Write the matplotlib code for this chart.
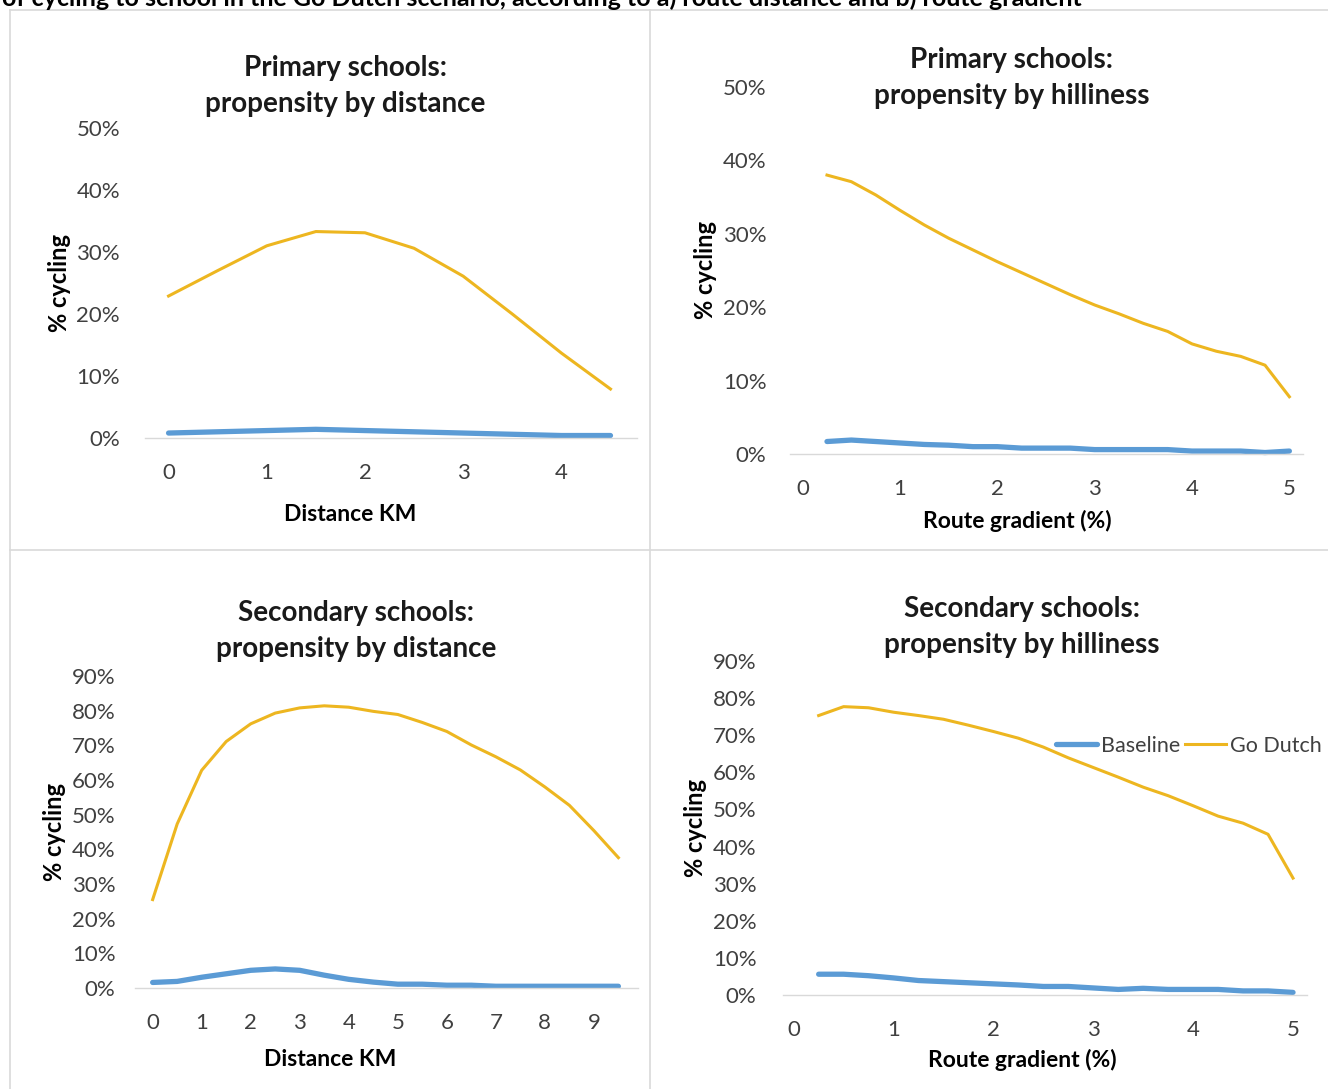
import matplotlib
matplotlib.use("Agg")
import matplotlib.pyplot as plt
from matplotlib.lines import Line2D

plt.rcParams["font.family"] = ["Lato", "DejaVu Sans"]

# --- data ---
dist_primary = [0, 0.5, 1, 1.5, 2, 2.5, 3, 3.5, 4, 4.5]
dist_primary_base = [0.8, 1.0, 1.2, 1.4, 1.2, 1.0, 0.8, 0.6, 0.4, 0.4]
dist_primary_dutch = [22.9, 27.0, 31.0, 33.3, 33.1, 30.6, 26.1, 20.0, 13.7, 7.9]

grad = [0.25, 0.5, 0.75, 1.0, 1.25, 1.5, 1.75, 2.0, 2.25, 2.5,
        2.75, 3.0, 3.25, 3.5, 3.75, 4.0, 4.25, 4.5, 4.75, 5.0]
grad_primary_base = [1.7, 1.9, 1.7, 1.5, 1.3, 1.2, 1.0, 1.0, 0.8, 0.8,
                     0.8, 0.6, 0.6, 0.6, 0.6, 0.4, 0.4, 0.4, 0.2, 0.4]
grad_primary_dutch = [38.0, 37.1, 35.3, 33.2, 31.2, 29.4, 27.8, 26.2, 24.7, 23.2,
                      21.7, 20.3, 19.1, 17.8, 16.7, 15.0, 14.0, 13.3, 12.1, 7.8]

dist_secondary = [0, 0.5, 1, 1.5, 2, 2.5, 3, 3.5, 4, 4.5,
                  5, 5.5, 6, 6.5, 7, 7.5, 8, 8.5, 9, 9.5]
dist_secondary_base = [1.6, 1.9, 3.1, 4.1, 5.1, 5.5, 5.1, 3.7, 2.5, 1.7,
                       1.1, 1.1, 0.8, 0.8, 0.5, 0.5, 0.5, 0.5, 0.5, 0.5]
dist_secondary_dutch = [25.5, 47.3, 62.8, 71.1, 76.2, 79.3, 80.8, 81.4, 81.0, 79.8,
                        78.9, 76.6, 74.0, 70.1, 66.7, 62.9, 58.0, 52.7, 45.4, 37.6]

grad_secondary_base = [5.6, 5.6, 5.2, 4.6, 3.9, 3.6, 3.3, 3.0, 2.7, 2.3,
                       2.3, 1.9, 1.5, 1.8, 1.5, 1.5, 1.5, 1.1, 1.1, 0.7]
grad_secondary_dutch = [75.3, 77.7, 77.4, 76.2, 75.3, 74.3, 72.7, 71.0, 69.2, 66.8,
                        63.9, 61.3, 58.7, 56.0, 53.7, 51.0, 48.2, 46.3, 43.3, 31.5]

BLUE = "#5B9BD5"
GOLD = "#EDB620"
GRID = "#D9D9D9"
TICK = "#404040"

W, H = 1328, 1089
fig = plt.figure(figsize=(W / 100, H / 100), dpi=100)


def px_rect(left, right, bottom, top):
    return [left / W, 1 - bottom / H, (right - left) / W, (bottom - top) / H]


def panel(rect, x, base, dutch, xlim, ymax, xticks, xlabel, ypad, xlab_px):
    ax = fig.add_axes(rect)
    ax.plot(x, base, color=BLUE, lw=3.8, solid_capstyle="round", clip_on=False, label="Baseline")
    ax.plot(x, dutch, color=GOLD, lw=2.2, clip_on=False, label="Go Dutch")
    ax.set_xlim(*xlim)
    ax.set_ylim(0, ymax)
    ax.set_yticks(range(0, ymax + 1, 10))
    ax.set_yticklabels([f"{v}%" for v in range(0, ymax + 1, 10)])
    ax.set_xticks(xticks)
    ax.tick_params(length=0, labelsize=16, labelcolor=TICK)
    ax.tick_params(axis="y", pad=ypad)
    ax.tick_params(axis="x", pad=18)
    for s in ["top", "right", "left"]:
        ax.spines[s].set_visible(False)
    ax.spines["bottom"].set_color(GRID)
    ax.spines["bottom"].set_linewidth(1)
    ax.set_xlabel(xlabel, fontsize=16.5, fontweight="bold")
    ax.set_ylabel("% cycling", fontsize=17, fontweight="bold", labelpad=4)
    # place the x label at its pixel centre in the figure
    lx = (xlab_px[0] / W - rect[0]) / rect[2]
    ly = ((1 - xlab_px[1] / H) - rect[1]) / rect[3]
    ax.xaxis.set_label_coords(lx, ly)
    ax.xaxis.label.set_va("center")
    return ax


ax1 = panel(px_rect(145, 637, 438, 128), dist_primary, dist_primary_base, dist_primary_dutch,
            (-0.24, 4.77), 50, range(0, 5), "Distance KM", 18, (350, 514))
ax2 = panel(px_rect(790, 1303, 454, 87), grad, grad_primary_base, grad_primary_dutch,
            (-0.13, 5.14), 50, range(0, 6), "Route gradient (%)", 17, (1017, 521))
ax3 = panel(px_rect(135, 638, 988, 676), dist_secondary, dist_secondary_base, dist_secondary_dutch,
            (-0.36, 9.9), 90, range(0, 10), "Distance KM", 14, (330, 1060))
ax4 = panel(px_rect(783, 1307, 995, 661), grad, grad_secondary_base, grad_secondary_dutch,
            (-0.107, 5.14), 90, range(0, 6), "Route gradient (%)", 19, (1022, 1060))

# titles (figure pixel positions)
titles = [
    ("Primary schools:\npropensity by distance", 345, 86),
    ("Primary schools:\npropensity by hilliness", 1012, 78),
    ("Secondary schools:\npropensity by distance", 356, 631),
    ("Secondary schools:\npropensity by hilliness", 1022, 627),
]
for txt, cx, cy in titles:
    fig.text(cx / W, 1 - cy / H, txt, ha="center", va="center", fontsize=20,
             fontweight="bold", color="#1a1a1a", linespacing=1.48)

# legend in the lower right panel
ax4.legend(loc="center left", bbox_to_anchor=(1056 / W, 1 - 746 / H),
           bbox_transform=fig.transFigure, ncol=2, frameon=False, fontsize=15.5,
           handlelength=1.9, handletextpad=0.2, columnspacing=0.2, borderpad=0,
           borderaxespad=0, labelcolor=TICK)

# panel frame lines
frame = dict(color=GRID, lw=1.2, transform=fig.transFigure)
fig.add_artist(Line2D([10 / W, 1], [1 - 10 / H, 1 - 10 / H], **frame))
fig.add_artist(Line2D([10 / W, 10 / W], [1 - 10 / H, 0], **frame))
fig.add_artist(Line2D([650 / W, 650 / W], [1 - 10 / H, 0], **frame))
fig.add_artist(Line2D([10 / W, 1], [1 - 550 / H, 1 - 550 / H], **frame))

# caption at the very top, cut off by the image edge as in the source
fig.text(2 / W, 1 - 6 / H,
         "of cycling to school in the Go Dutch scenario, according to a) route distance and b) route gradient",
         ha="left", va="baseline", fontsize=18, fontweight="bold", color="black")

fig.savefig("out.png", dpi=100)
